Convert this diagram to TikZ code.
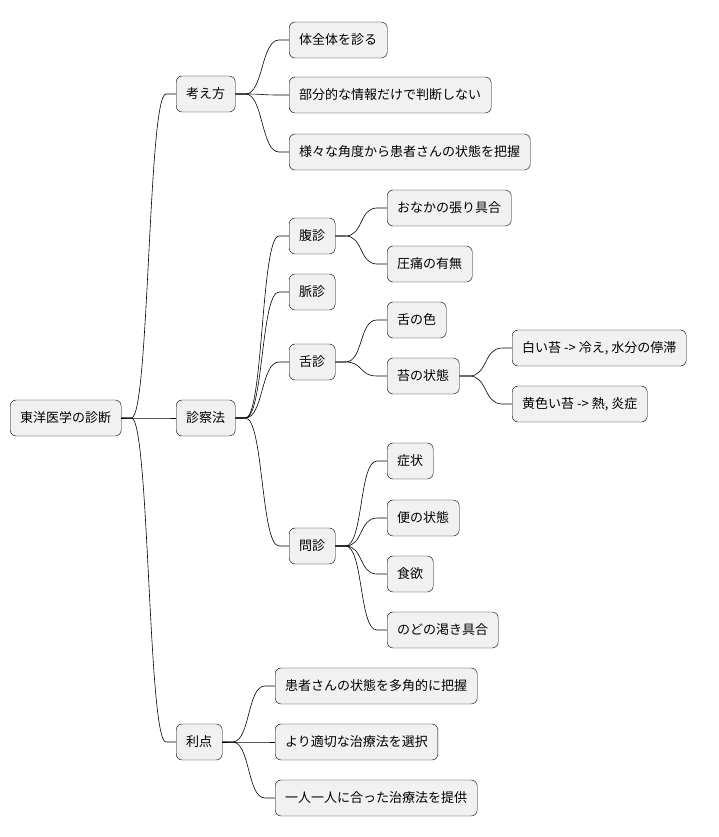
\documentclass[tikz,border=0pt]{standalone}
\usepackage{fontspec}
\setmainfont{Noto Sans CJK JP}
\usetikzlibrary{positioning}
\definecolor{boxfill}{HTML}{F1F1F1}
\tikzset{
  idea/.style={draw=black, fill=boxfill, rounded corners=6pt, minimum height=36pt,
    inner xsep=10pt, anchor=west, font=\fontsize{13}{15}\selectfont},
  branch/.style={draw=black, line width=0.6pt}
}
\newcommand{\link}[2]{\draw[branch] (#1.east) -- ++(10pt,0) .. controls +(18pt,0) and +(-18pt,0) .. ($(#2.west)+(-10pt,0)$) -- (#2.west);}
\usetikzlibrary{calc}
\begin{document}
\begin{tikzpicture}[x=1pt,y=-1pt]
  \useasboundingbox (0,0) rectangle (719,837);
  % root and first level
  \node[idea] (root) at (10,418) {東洋医学の診断};
  \node[idea] (kangae) at (176,94) {考え方};
  \node[idea] (shinsatsu) at (176,418) {診察法};
  \node[idea] (riten) at (176,742) {利点};
  % 考え方
  \node[idea] (k1) at (289,40) {体全体を診る};
  \node[idea] (k2) at (289,95) {部分的な情報だけで判断しない};
  \node[idea] (k3) at (289,152) {様々な角度から患者さんの状態を把握};
  % 診察法
  \node[idea] (fuku) at (289,236) {腹診};
  \node[idea] (myaku) at (289,292) {脈診};
  \node[idea] (zetsu) at (289,362) {舌診};
  \node[idea] (mon) at (289,546) {問診};
  \node[idea] (f1) at (387,208) {おなかの張り具合};
  \node[idea] (f2) at (387,264) {圧痛の有無};
  \node[idea] (z1) at (387,320) {舌の色};
  \node[idea] (z2) at (387,376) {苔の状態};
  \node[idea] (t1) at (512,348) {白い苔 -> 冷え, 水分の停滞};
  \node[idea] (t2) at (512,404) {黄色い苔 -> 熱, 炎症};
  \node[idea] (m1) at (387,461) {症状};
  \node[idea] (m2) at (387,518) {便の状態};
  \node[idea] (m3) at (387,574) {食欲};
  \node[idea] (m4) at (387,630) {のどの渇き具合};
  % 利点
  \node[idea] (r1) at (275,686) {患者さんの状態を多角的に把握};
  \node[idea] (r2) at (275,742) {より適切な治療法を選択};
  \node[idea] (r3) at (275,798) {一人一人に合った治療法を提供};
  % connectors
  \foreach \p/\c in {root/kangae, root/shinsatsu, root/riten,
      kangae/k1, kangae/k2, kangae/k3,
      shinsatsu/fuku, shinsatsu/myaku, shinsatsu/zetsu, shinsatsu/mon,
      fuku/f1, fuku/f2, zetsu/z1, zetsu/z2, z2/t1, z2/t2,
      mon/m1, mon/m2, mon/m3, mon/m4, riten/r1, riten/r2, riten/r3}
    {\link{\p}{\c}}
\end{tikzpicture}
\end{document}
